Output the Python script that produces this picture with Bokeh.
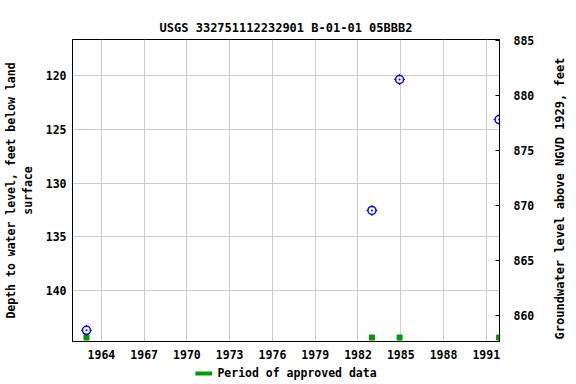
import math
from bokeh.plotting import figure
from bokeh.layouts import column
from bokeh.models import (Range1d, LinearAxis, FixedTicker, Legend, LegendItem,
                          ColumnDataSource, Title, Label)
from bokeh.embed import file_html
from bokeh.resources import INLINE

# ---- data ----
title_text = "USGS 332751112232901 B-01-01 05BBB2"
meas_year = [1962.95, 1982.98, 1984.92, 1991.9]
meas_depth = [143.7, 132.55, 120.37, 124.1]
approved_year = [1962.95, 1982.98, 1984.92, 1991.9]
approved_level = 144.37
x_ticks = [1964, 1967, 1970, 1973, 1976, 1979, 1982, 1985, 1988, 1991]
left_ticks = [120, 125, 130, 135, 140]
right_ticks = [860, 865, 870, 875, 880, 885]

FONT = "DejaVu Sans Mono"
FS = "11.5px"

p = figure(width=576, height=362, output_backend="svg", toolbar_location=None,
           x_range=Range1d(1961.97, 1991.93), y_range=Range1d(144.74, 116.65),
           min_border_left=71, min_border_right=77, min_border_top=39,
           min_border_bottom=21)
p.extra_y_ranges = {"right": Range1d(857.64, 885.09)}

p.title = Title(text=title_text, align="center", text_font=FONT,
                text_font_size="12px", text_font_style="bold", offset=0,
                text_color="black")
p.outline_line_color = "black"
p.outline_line_width = 1

# axes
xa = p.xaxis[0]
xa.ticker = FixedTicker(ticks=x_ticks)
ya = p.yaxis[0]
ya.ticker = FixedTicker(ticks=left_ticks)
ya.axis_label = "Depth to water level, feet below land\nsurface"
for ax in (xa, ya):
    ax.major_tick_out = 0
    ax.major_tick_in = 0
    ax.minor_tick_out = 0
    ax.minor_tick_in = 0
    ax.axis_line_color = "black"
    ax.major_label_text_font = FONT
    ax.major_label_text_font_size = FS
    ax.major_label_text_font_style = "bold"
    ax.major_label_text_color = "black"
    ax.axis_label_text_font = FONT
    ax.axis_label_text_font_size = FS
    ax.axis_label_text_font_style = "bold"
    ax.axis_label_text_color = "black"
ya.axis_label_standoff = 8
ya.major_label_standoff = 6
xa.major_label_standoff = 8

ra = LinearAxis(y_range_name="right", ticker=FixedTicker(ticks=right_ticks),
                major_tick_in=4, major_tick_out=0, minor_tick_in=0,
                minor_tick_out=0, major_label_standoff=14)
ra.major_label_text_font = FONT
ra.major_label_text_font_size = FS
ra.major_label_text_font_style = "bold"
ra.major_label_text_color = "black"
p.add_layout(ra, "right")

rlabel = Label(text="Groundwater level above NGVD 1929, feet", x=22, y=143,
               x_units="screen", y_units="screen", angle=math.pi / 2,
               text_align="center", text_baseline="middle", text_font=FONT,
               text_font_size="12px", text_font_style="bold", text_color="black")
p.add_layout(rlabel, "right")

p.xgrid.grid_line_color = "#cccccc"
p.ygrid.grid_line_color = "#cccccc"
p.xgrid.ticker = FixedTicker(ticks=x_ticks)
p.ygrid.ticker = FixedTicker(ticks=left_ticks)

# approved data markers
p.scatter(approved_year, [approved_level] * len(approved_year), marker="square",
          size=5, fill_color="#009900", line_color="#009900")

# measurements
src = ColumnDataSource(dict(x=meas_year, y=meas_depth))
p.scatter("x", "y", source=src, marker="cross", size=11, line_color="blue",
          line_width=1)
p.scatter("x", "y", source=src, marker="circle_dot", size=8, line_color="blue",
          fill_color="white", line_width=1.5)

# legend strip (the line glyph's data lie outside this strip's ranges)
lf = figure(width=576, height=22, output_backend="svg", toolbar_location=None,
            x_range=Range1d(0, 1), y_range=Range1d(0, 1),
            min_border_left=0, min_border_right=0, min_border_top=0,
            min_border_bottom=0, x_axis_type=None, y_axis_type=None)
lf.outline_line_color = None
lf.grid.visible = False
leg_src = ColumnDataSource(dict(x=approved_year,
                                y=[approved_level] * len(approved_year)))
r_leg = lf.line("x", "y", source=leg_src, line_color="#009900", line_width=4)
legend = Legend(items=[LegendItem(label="Period of approved data", renderers=[r_leg])],
                location="center", orientation="horizontal",
                border_line_color=None, background_fill_alpha=0,
                label_text_font=FONT, label_text_font_size=FS,
                label_text_font_style="bold", label_text_color="black",
                glyph_width=17, glyph_height=10,
                margin=0, padding=0, label_standoff=6)
lf.add_layout(legend, "center")

layout = column(p, lf, spacing=0)
open("out.html", "w").write(file_html(layout, INLINE))
